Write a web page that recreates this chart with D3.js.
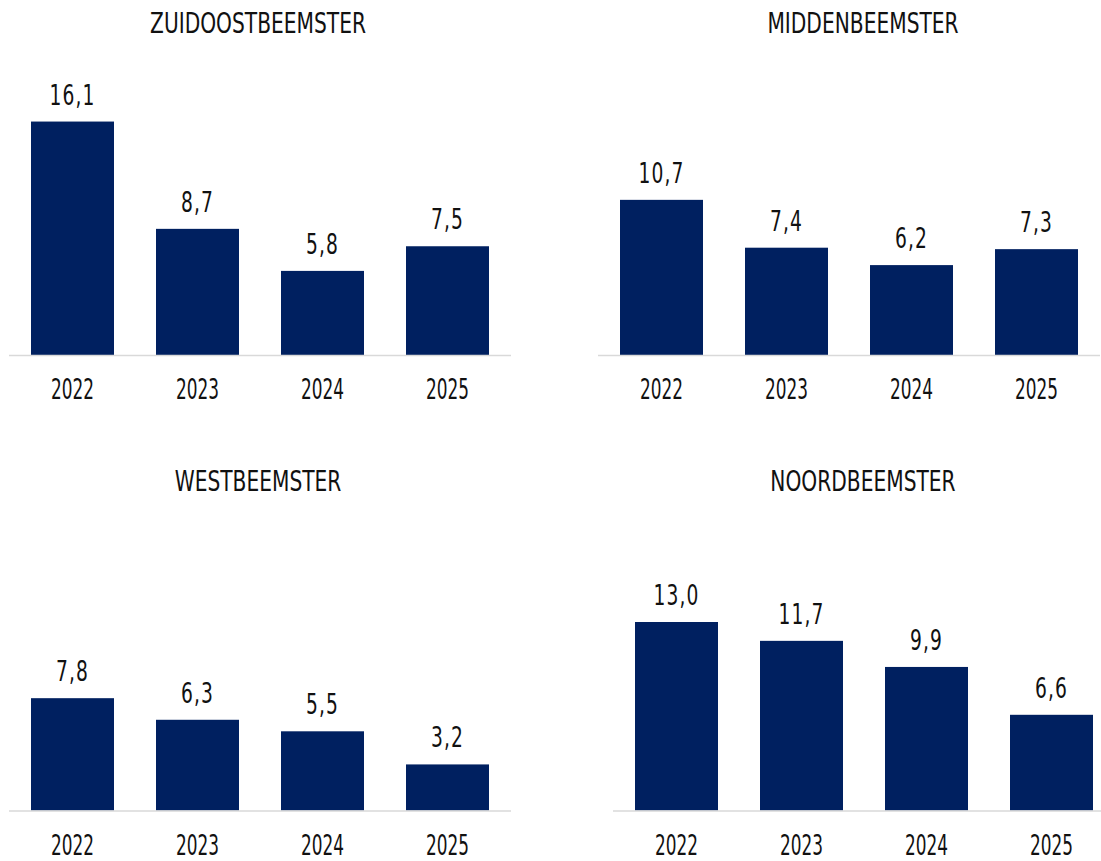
<!DOCTYPE html>
<html>
<head>
<meta charset="utf-8">
<script src="https://cdn.jsdelivr.net/npm/d3@7"></script>
<style>
  body { margin: 0; background: #fff; }
  svg text { font-family: "Liberation Sans Narrow", "DejaVu Sans Condensed", sans-serif; fill: #111; }
</style>
</head>
<body>
<div id="chart"></div>
<script>
const years = ["2022", "2023", "2024", "2025"];

const titles = ["ZUIDOOSTBEEMSTER", "MIDDENBEEMSTER", "WESTBEEMSTER", "NOORDBEEMSTER"];

const zuidoost = [16.1, 8.7, 5.8, 7.5];
const midden = [10.7, 7.4, 6.2, 7.3];
const west = [7.8, 6.3, 5.5, 3.2];
const noord = [13.0, 11.7, 9.9, 6.6];

const width = 1101, height = 861;
const barColor = "#002060";
const fontSize = 28;

// panel layout: band range, baseline y, title position, px per unit
const panels = [
    {title: titles[0], values: zuidoost, x0: 9, x1: 511, base: 355, tx: 258, ty: 33, k: 14.5},
    {title: titles[1], values: midden, x0: 598, x1: 1100, base: 355, tx: 863, ty: 33, k: 14.5},
    {title: titles[2], values: west, x0: 9, x1: 511, base: 810.5, tx: 258, ty: 490.5, k: 14.4},
    {title: titles[3], values: noord, x0: 613, x1: 1115, base: 810.5, tx: 863, ty: 490.5, k: 14.5}
];

const nl = d3.formatLocale({decimal: ",", thousands: ".", grouping: [3], currency: ["€", ""]});
const fmt = nl.format(".1f");

const svg = d3.select("#chart")
    .append("svg")
    .attr("width", width)
    .attr("height", height);

// the original font is a narrow one, squeeze text to the widths seen in the picture
function squeeze(str, target, spacing) {
    const t = svg.append("text").attr("font-size", fontSize)
        .attr("letter-spacing", spacing || 0).text(str);
    const w = t.node().getComputedTextLength();
    t.remove();
    return target / w;
}
const sxYear = squeeze("2022", 43);
const sxValue = squeeze("13,0", 46, 1.5);
const sxTitle = squeeze("ZUIDOOSTBEEMSTER", 216);

panels.forEach(p => {
    const x = d3.scaleBand()
        .domain(years)
        .range([p.x0, p.x1])
        .paddingInner(0.336)
        .paddingOuter(0.176);

    const y = d3.scaleLinear()
        .domain([0, 20])
        .range([p.base, p.base - 20 * p.k]);

    const g = svg.append("g");

    g.append("text")
        .attr("transform", `translate(${p.tx},${p.ty}) scale(${sxTitle},1)`)
        .attr("text-anchor", "middle")
        .attr("font-size", fontSize)
        .text(p.title);

    g.selectAll("rect")
        .data(p.values)
        .join("rect")
        .attr("x", (d, i) => x(years[i]))
        .attr("y", d => y(d))
        .attr("width", x.bandwidth())
        .attr("height", d => y(0) - y(d))
        .attr("fill", barColor);

    g.append("line")
        .attr("x1", p.x0)
        .attr("x2", p.x1)
        .attr("y1", y(0) + 0.5)
        .attr("y2", y(0) + 0.5)
        .attr("stroke", "#d9d9d9")
        .attr("stroke-width", 1.6);

    g.selectAll("text.value")
        .data(p.values)
        .join("text")
        .attr("class", "value")
        .attr("transform", (d, i) => `translate(${x(years[i]) + x.bandwidth() / 2},${y(d) - 17}) scale(${sxValue},1)`)
        .attr("text-anchor", "middle")
        .attr("letter-spacing", 1.5)
        .attr("font-size", fontSize)
        .text(d => fmt(d));

    g.selectAll("text.year")
        .data(years)
        .join("text")
        .attr("class", "year")
        .attr("transform", d => `translate(${x(d) + x.bandwidth() / 2},${y(0) + 44}) scale(${sxYear},1)`)
        .attr("text-anchor", "middle")
        .attr("font-size", fontSize)
        .text(d => d);
});
</script>
</body>
</html>
